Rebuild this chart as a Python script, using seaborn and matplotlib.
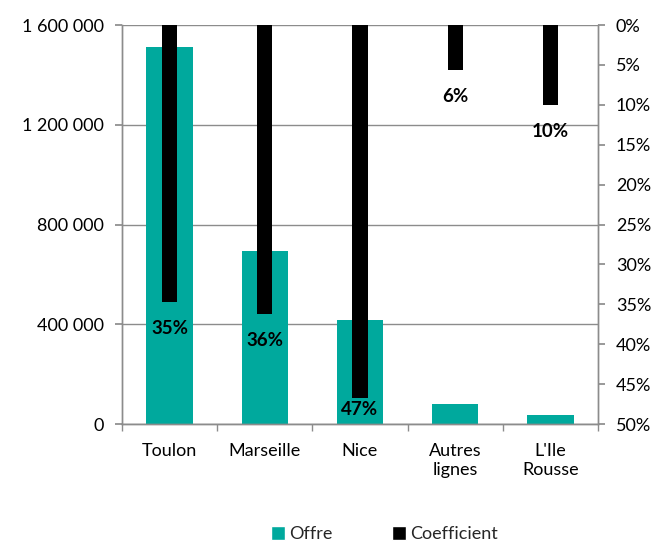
import pandas as pd
import numpy as np
import matplotlib.pyplot as plt
import seaborn as sns
from matplotlib.patches import Patch
from matplotlib.ticker import FuncFormatter, MultipleLocator

# Data
categories = ["Toulon", "Marseille", "Nice", "Autres\nlignes", "L'Ile\nRousse"]
offre = [1511000, 694000, 417000, 80000, 36000]
coefficient = [0.347, 0.362, 0.467, 0.056, 0.100]

TEAL = "#00A99D"
GRID = "#8C8C8C"

sns.set_theme(style="white")
plt.rcParams['font.family'] = ['Lato', 'DejaVu Sans']

df = pd.DataFrame({'ligne': categories, 'offre': offre, 'coef': coefficient})

fig = plt.figure(figsize=(6.71, 5.45), dpi=100)
ax = fig.add_axes([0.182, 0.222, 0.709, 0.732])

# Offre bars (left axis)
sns.barplot(data=df, x='ligne', y='offre', color=TEAL, width=0.49,
            saturation=1, linewidth=0, ax=ax, zorder=2)
ax.set_ylim(0, 1600000)
ax.set_xlim(-0.5, len(categories) - 0.5)
ax.yaxis.set_major_locator(MultipleLocator(400000))
ax.yaxis.set_major_formatter(FuncFormatter(lambda v, _: f"{int(v):,}".replace(",", " ")))
ax.grid(axis='y', color=GRID, linewidth=1, zorder=0)
ax.set_axisbelow(True)
ax.set_xlabel('')
ax.set_ylabel('')

# Coefficient bars hanging from the top (right axis, inverted)
ax2 = ax.twinx()
sns.barplot(data=df, x='ligne', y='coef', color='black', width=0.16,
            saturation=1, linewidth=0, ax=ax2, zorder=3)
ax2.set_ylim(0.5, 0)
ax2.set_xlim(-0.5, len(categories) - 0.5)
ax2.yaxis.set_major_locator(MultipleLocator(0.05))
ax2.yaxis.set_major_formatter(FuncFormatter(lambda v, _: f"{v*100:.0f}%"))
ax2.set_ylabel('')
ax2.grid(False)

for i, v in enumerate(coefficient):
    ax2.text(i, min(v + 0.033, 0.482), f"{round(v*100):.0f}%", ha='center',
             va='center', fontsize=13.5, fontweight='bold', color='black', zorder=4)

# Axis styling (Excel-like)
for a in (ax, ax2):
    a.spines['top'].set_visible(False)
    for side in ('left', 'right', 'bottom'):
        a.spines[side].set_color(GRID)
        a.spines[side].set_linewidth(1)

ax.set_xticks(np.arange(len(categories)))
ax.set_xticklabels(categories)
ax.tick_params(axis='x', length=0, labelsize=13, colors='black', pad=14)
ax.set_xticks(np.arange(-0.5, len(categories)), minor=True)
ax.tick_params(axis='x', which='minor', length=5, color=GRID, direction='out', bottom=True)
ax.tick_params(axis='y', length=5, color=GRID, labelsize=13, labelcolor='black',
               left=True, direction='out', pad=8)
ax2.tick_params(axis='y', length=5, color=GRID, labelsize=13, labelcolor='black',
                right=True, direction='out', pad=8)

handles = [Patch(facecolor=TEAL, label='Offre'), Patch(facecolor='black', label='Coefficient')]
fig.legend(handles=handles, loc='lower center', ncol=2, frameon=False, fontsize=13,
           bbox_to_anchor=(0.573, -0.025), handlelength=0.75, handleheight=0.75,
           handletextpad=0.25, columnspacing=3.3)

plt.savefig('out.png', dpi=100)
